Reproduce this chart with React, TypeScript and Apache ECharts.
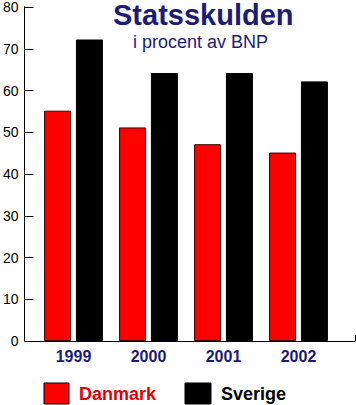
import React, { useEffect, useRef } from "react";
import * as echarts from "echarts";

const years = ["1999", "2000", "2001", "2002"];
const danmark = [55, 51, 47, 45];
const sverige = [72, 64, 64, 62];
const yTicks = { min: 0, max: 80, interval: 10 };
const seriesNames = ["Danmark", "Sverige"];

const NAVY = "#1c1c78";
const FONT = "Liberation Sans, Arial, sans-serif";

export default function App() {
  const ref = useRef<HTMLDivElement>(null);
  useEffect(() => {
    if (!ref.current) return;
    const chart = echarts.init(ref.current, null, { renderer: "svg" });
    chart.setOption({
      animation: false,
      backgroundColor: "#ffffff",
      title: [
        {
          text: "Statsskulden",
          left: 113,
          top: 0,
          padding: 0,
          textStyle: { color: NAVY, fontSize: 29, fontWeight: "bold", fontFamily: FONT },
        },
        {
          text: "i procent av BNP",
          left: 133,
          top: 33,
          padding: 0,
          textStyle: { color: NAVY, fontSize: 18, fontWeight: "normal", fontFamily: FONT },
        },
      ],
      graphic: [
        {
          type: "rect",
          shape: { x: 44, y: 383, width: 25, height: 21 },
          style: { fill: "#ff0000", stroke: "#000000", lineWidth: 1 },
        },
        {
          type: "text",
          x: 79,
          y: 394,
          style: {
            text: seriesNames[0],
            fill: "#e00000",
            font: "bold 18px " + FONT,
            verticalAlign: "middle",
          },
        },
        {
          type: "rect",
          shape: { x: 185, y: 383, width: 26, height: 21 },
          style: { fill: "#000000", stroke: "#000000", lineWidth: 1 },
        },
        {
          type: "text",
          x: 221,
          y: 394,
          style: {
            text: seriesNames[1],
            fill: "#000000",
            font: "bold 18px " + FONT,
            verticalAlign: "middle",
          },
        },
      ],
      grid: [
        { left: 21, right: 1, top: 6, bottom: 64 },
        { left: 36, width: 300, top: 6, bottom: 64 },
      ],
      xAxis: [
        {
          gridIndex: 0,
          type: "value",
          min: 0,
          max: 1,
          interval: 1,
          axisLine: { show: true, lineStyle: { color: "#000", width: 1 } },
          axisTick: { show: true, inside: true, length: 6, lineStyle: { color: "#000" } },
          axisLabel: { show: false },
          splitLine: { show: false },
        },
        {
          gridIndex: 1,
          type: "category",
          data: years,
          axisLine: { show: false },
          axisTick: { show: false },
          axisLabel: { color: NAVY, fontSize: 16, fontWeight: "bold", fontFamily: FONT, margin: 7 },
        },
      ],
      yAxis: [
        {
          gridIndex: 0,
          type: "value",
          ...yTicks,
          axisLine: { show: true, lineStyle: { color: "#000", width: 1 } },
          axisTick: { show: true, inside: true, length: 9, lineStyle: { color: "#000" } },
          axisLabel: { color: "#000", fontSize: 14, fontFamily: FONT, margin: 6 },
          splitLine: { show: false },
        },
        {
          gridIndex: 1,
          type: "value",
          ...yTicks,
          show: false,
          splitLine: { show: false },
        },
      ],
      series: [
        {
          name: seriesNames[0],
          type: "bar",
          xAxisIndex: 1,
          yAxisIndex: 1,
          data: danmark,
          barWidth: 27,
          barGap: "18%",
          itemStyle: { color: "#ff0000", borderColor: "#3a0000", borderWidth: 1 },
        },
        {
          name: seriesNames[1],
          type: "bar",
          xAxisIndex: 1,
          yAxisIndex: 1,
          data: sverige,
          barWidth: 27,
          barGap: "18%",
          itemStyle: { color: "#000000", borderColor: "#000000", borderWidth: 1 },
        },
      ],
    });
    return () => chart.dispose();
  }, []);
  return <div ref={ref} style={{ width: 356, height: 405, position: "absolute", left: 0, top: 0 }} />;
}
